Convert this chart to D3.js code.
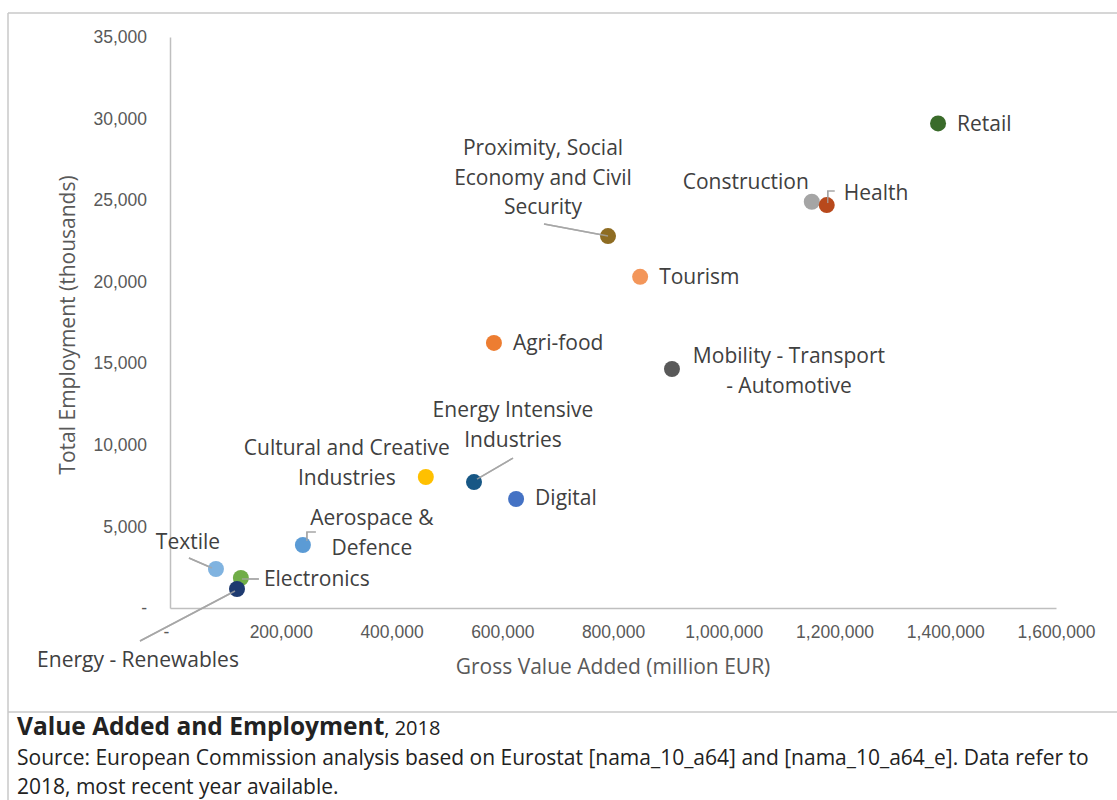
<!DOCTYPE html>
<html>
<head>
<meta charset="utf-8">
<script src="https://cdn.jsdelivr.net/npm/d3@7/dist/d3.min.js"></script>
<style>
  body { margin: 0; background: #fff; }
  svg { display: block; font-family: "Open Sans", sans-serif; }
</style>
</head>
<body>
<svg id="chart" width="1117" height="800"></svg>
<script>
// values
const sectors = ['Retail', 'Construction', 'Health', 'Proximity, Social Economy and Civil Security',
  'Tourism', 'Agri-food', 'Mobility - Transport - Automotive', 'Energy Intensive Industries',
  'Cultural and Creative Industries', 'Digital', 'Aerospace & Defence', 'Textile',
  'Electronics', 'Energy - Renewables']
const gva = [1387000, 1159000, 1186000, 791000, 849000, 585000, 906500, 549000,
  462000, 625000, 240000, 83000, 128000, 121000]
const employment = [29700, 24900, 24700, 22800, 20300, 16250, 14650, 7720,
  8030, 6680, 3860, 2390, 1840, 1165]
const xTicks = [0, 200000, 400000, 600000, 800000, 1000000, 1200000, 1400000, 1600000]
const yTicks = [0, 5000, 10000, 15000, 20000, 25000, 30000, 35000]

const colors = ['#3a6b2a', '#a5a5a5', '#b8491c', '#8e6c22', '#f3965a', '#ed7d31', '#595959',
  '#175785', '#ffc000', '#4472c4', '#5b9bd5', '#80b3e0', '#70ad47', '#1e3a70']

// label placement relative to each point: [anchor, dx, dy, lines]
const labelLayout = [
  ['start', 19, 0, ['Retail']],
  ['end', -3, -20, ['Construction']],
  ['start', 17, -12, ['Health']],
  ['middle', -65, -88, ['Proximity, Social', 'Economy and Civil', 'Security']],
  ['start', 19, 0, ['Tourism']],
  ['start', 19, 0, ['Agri-food']],
  ['middle', 117, -13, ['Mobility - Transport', '- Automotive']],
  ['middle', 39, -72, ['Energy Intensive', 'Industries']],
  ['middle', -79, -29, ['Cultural and Creative', 'Industries']],
  ['start', 19, -1, ['Digital']],
  ['middle', 69, -27, ['Aerospace &', 'Defence']],
  ['middle', -28, -27, ['Textile']],
  ['start', 23, 1, ['Electronics']],
  ['middle', -99, 71, ['Energy - Renewables']]
]
const leaders = {
  3: [[-64, -12], [0, 0]],
  2: [[8, -14], [1, -14], [1, -2]],
  7: [[39, -24], [3, -3]],
  10: [[13, -13], [4, -13], [4, -4]],
  11: [[-27, -11], [-4, -1]],
  12: [[18, 1], [1, 1]],
  13: [[-97, 52], [-2, 2]]
}

const svg = d3.select('#chart')

// frame
const frame = svg.append('g').attr('stroke', '#c8c8c8').attr('stroke-width', 1.5)
frame.append('line').attr('x1', 8).attr('x2', 1117).attr('y1', 13).attr('y2', 13)
frame.append('line').attr('x1', 8).attr('x2', 8).attr('y1', 13).attr('y2', 800)
frame.append('line').attr('x1', 8).attr('x2', 1117).attr('y1', 712).attr('y2', 712)

const x = d3.scaleLinear().domain([0, 1600000]).range([170, 1056])
const y = d3.scaleLinear().domain([0, 35000]).range([608, 37])
const fmt = d => d === 0 ? '-' : d3.format(',')(d)

const xAxis = svg.append('g')
  .attr('transform', `translate(0,${y(0)})`)
  .call(d3.axisBottom(x).tickValues(xTicks).tickFormat(fmt).tickSize(0).tickPadding(18))
const yAxis = svg.append('g')
  .attr('transform', `translate(${x(0)},0)`)
  .call(d3.axisLeft(y).tickValues(yTicks).tickFormat(fmt).tickSize(0).tickPadding(23))

;[xAxis, yAxis].forEach(ax => {
  ax.select('.domain').attr('stroke', '#bfbfbf').attr('stroke-width', 1.5)
  ax.selectAll('text').attr('fill', '#595959').style('font-size', '17.5px').attr('font-family', null)
})
xAxis.selectAll('.tick').filter(d => d === 0).select('text').attr('dx', -4)

svg.append('text')
  .attr('x', 613).attr('y', 667).attr('dy', '0.35em')
  .attr('text-anchor', 'middle').attr('fill', '#595959').style('font-size', '21px')
  .text('Gross Value Added (million EUR)')
svg.append('text')
  .attr('transform', 'translate(68,325) rotate(-90)').attr('dy', '0.35em')
  .attr('text-anchor', 'middle').attr('fill', '#595959').style('font-size', '21px')
  .text('Total Employment (thousands)')

const points = sectors.map((s, i) => ({ name: s, px: x(gva[i]), py: y(employment[i]), color: colors[i], i }))

// leader lines
const line = d3.line()
Object.keys(leaders).forEach(k => {
  const p = points[k]
  svg.append('path')
    .attr('d', line(leaders[k].map(o => [p.px + o[0], p.py + o[1]])))
    .attr('fill', 'none').attr('stroke', '#a6a6a6').attr('stroke-width', 1.5)
})

svg.append('g').selectAll('circle')
  .data(points)
  .join('circle')
  .attr('cx', d => d.px).attr('cy', d => d.py).attr('r', 8)
  .attr('fill', d => d.color)

// redraw leader ends over the dots (they sit on top in the picture)
Object.keys(leaders).forEach(k => {
  const p = points[k]
  const pts = leaders[k].map(o => [p.px + o[0], p.py + o[1]])
  svg.append('path')
    .attr('d', line(pts.slice(-2)))
    .attr('fill', 'none').attr('stroke', '#a6a6a6').attr('stroke-width', 1.5).attr('opacity', 0.8)
})

const labels = svg.append('g').attr('fill', '#404040').style('font-size', '21px')
points.forEach((p, i) => {
  const [anchor, dx, dy, lines] = labelLayout[i]
  const t = labels.append('text').attr('text-anchor', anchor)
  lines.forEach((l, j) => {
    t.append('tspan')
      .attr('x', p.px + dx).attr('y', p.py + dy + j * 29.5).attr('dy', '0.35em')
      .text(l)
  })
})

// caption
const cap = svg.append('g').attr('fill', '#222')
const title = cap.append('text').attr('x', 17).attr('y', 735).style('font-size', '24.5px')
title.append('tspan').attr('font-weight', 'bold').text('Value Added and Employment')
title.append('tspan').style('font-size', '20px').text(', 2018')
cap.append('text').attr('x', 17).attr('y', 765).style('font-size', '21px')
  .text('Source: European Commission analysis based on Eurostat [nama_10_a64] and [nama_10_a64_e]. Data refer to')
cap.append('text').attr('x', 17).attr('y', 794).style('font-size', '21px')
  .text('2018, most recent year available.')
</script>
</body>
</html>
